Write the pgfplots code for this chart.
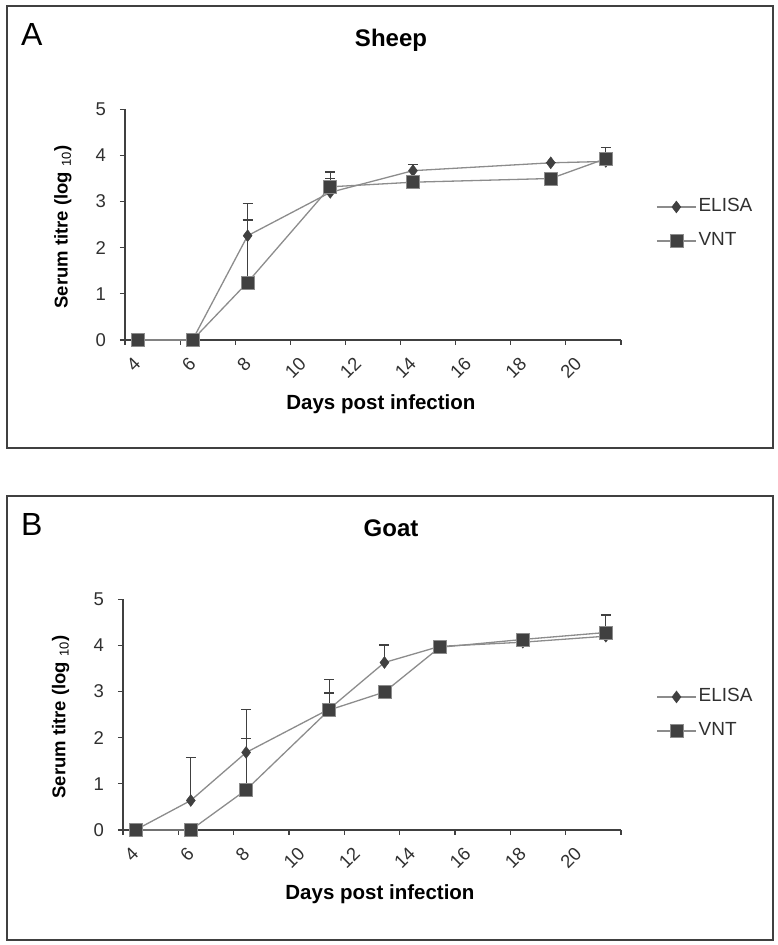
\documentclass[border=0pt]{standalone}
\usepackage{fontspec}
\setmainfont{Liberation Sans}
\usepackage{pgfplots}
\pgfplotsset{compat=1.18}
\definecolor{linegray}{HTML}{8C8C8C}
\definecolor{markgray}{HTML}{404040}
\definecolor{txtgray}{HTML}{303030}

\pgfplotsset{
  panel/.style={
    scale only axis, height=230.7pt,
    xmin=3.55, xmax=21.55, ymin=0, ymax=5,
    clip=false,
    axis x line*=bottom, axis y line*=left,
    axis line style={-, line width=1.1pt, draw=markgray},
    tick align=outside,
    major tick length=5pt,
    tick style={line width=1.1pt, draw=markgray},
    ytick={0,1,2,3,4,5},
    xtick={3.55,5.55,7.55,9.55,11.55,13.55,15.55,17.55,19.55,21.55},
    xticklabels={},
    extra x ticks={3.83,5.83,7.83,9.83,11.83,13.83,15.83,17.83,19.83},
    extra x tick labels={4,6,8,10,12,14,16,18,20},
    extra x tick style={major tick length=0pt,
      xticklabel style={yshift=-16pt, rotate=45, anchor=north east, inner sep=0pt}},
    /pgf/number format/assume math mode=true,
    ticklabel style={font=\fontsize{18.5}{20}\selectfont, text=txtgray},
    yticklabel style={inner sep=0pt, xshift=-14pt},
    xlabel style={font=\fontsize{20.5}{22}\selectfont\bfseries, at={(axis description cs:0.516,0)}, anchor=base, yshift=-70pt},
    ylabel style={font=\fontsize{18.5}{20}\selectfont\bfseries, at={(axis description cs:-0.125,0.49)}, anchor=center},
    legend cell align=left,
    legend style={at={(axis description cs:1.0706,0.503)}, anchor=west, draw=none, fill=none, inner sep=0pt,
      font=\fontsize{19}{21}\selectfont, text=txtgray,
      /tikz/row sep=17pt, /tikz/column sep=2pt,
      nodes={inner sep=0pt, text height=13pt, text depth=4pt}},
    legend image code/.code={\draw[mark repeat=2, mark phase=2, ##1] plot coordinates {(0pt,0pt) (19.5pt,0pt) (39pt,0pt)};},
  },
  elisa/.style={linegray, line width=1.3pt, mark=diamond*, mark size=6pt,
    mark options={fill=markgray, draw=markgray, line width=0.4pt},
    error bars/.cd, y dir=plus, y explicit,
    error bar style={line width=1.1pt, draw=markgray},
    error mark options={rotate=90, mark size=5pt, line width=1.1pt, draw=markgray}},
  vnt/.style={linegray, line width=1.3pt, mark=square*, mark size=6.5pt,
    mark options={fill=markgray, draw=linegray, line width=0.6pt},
    error bars/.cd, y dir=plus, y explicit,
    error bar style={line width=1.1pt, draw=markgray},
    error mark options={rotate=90, mark size=5pt, line width=1.1pt, draw=markgray}},
}

\pgfplotstableread{
d v e
4 0 0
6 0 0
8 2.26 0.70
11 3.20 0.30
14 3.67 0.14
19 3.84 0
21 3.87 0
}\sheepelisa
\pgfplotstableread{
d v e
4 0 0
6 0 0
8 1.25 1.35
11 3.32 0.32
14 3.42 0
19 3.50 0
21 3.93 0.25
}\sheepvnt
\pgfplotstableread{
d v e
4 0 0
6 0.64 0.94
8 1.68 0.94
11 2.62 0.65
13 3.63 0.38
15 3.98 0
18 4.07 0
21 4.20 0
}\goatelisa
\pgfplotstableread{
d v e
4 0 0
6 0 0
8 0.87 1.12
11 2.60 0.37
13 2.99 0
15 3.96 0
18 4.13 0
21 4.28 0.38
}\goatvnt

\begin{document}
\begin{tikzpicture}
\useasboundingbox (0,0) rectangle (778pt,945pt);
\draw[line width=1.4pt, draw=markgray] (7pt,497pt) rectangle (773pt,939pt);
\draw[line width=1.4pt, draw=markgray] (7pt,5pt) rectangle (773pt,449pt);
\node[anchor=base west, inner sep=0pt, font=\fontsize{32}{34}\selectfont] at (21pt,899pt) {A};
\node[anchor=base, inner sep=0pt, font=\fontsize{24}{26}\selectfont\bfseries] at (391pt,898pt) {Sheep};
\node[anchor=base west, inner sep=0pt, font=\fontsize{32}{34}\selectfont] at (21pt,409pt) {B};
\node[anchor=base, inner sep=0pt, font=\fontsize{24}{26}\selectfont\bfseries] at (391pt,408pt) {Goat};

\begin{axis}[panel, width=496pt, at={(125pt,605pt)}, anchor=origin,
  xlabel={Days post infection},
  ylabel={Serum titre (log \textmd{\textsubscript{10}})}]
\addplot[elisa] table[x=d, y=v, y error=e] {\sheepelisa};
\addlegendentry{ELISA}
\addplot[vnt] table[x=d, y=v, y error=e] {\sheepvnt};
\addlegendentry{VNT}
\end{axis}

\begin{axis}[panel, width=498pt, at={(123pt,115pt)}, anchor=origin,
  xlabel={Days post infection},
  ylabel={Serum titre (log \textmd{\textsubscript{10}})}]
\addplot[elisa] table[x=d, y=v, y error=e] {\goatelisa};
\addlegendentry{ELISA}
\addplot[vnt] table[x=d, y=v, y error=e] {\goatvnt};
\addlegendentry{VNT}
\end{axis}
\end{tikzpicture}
\end{document}
